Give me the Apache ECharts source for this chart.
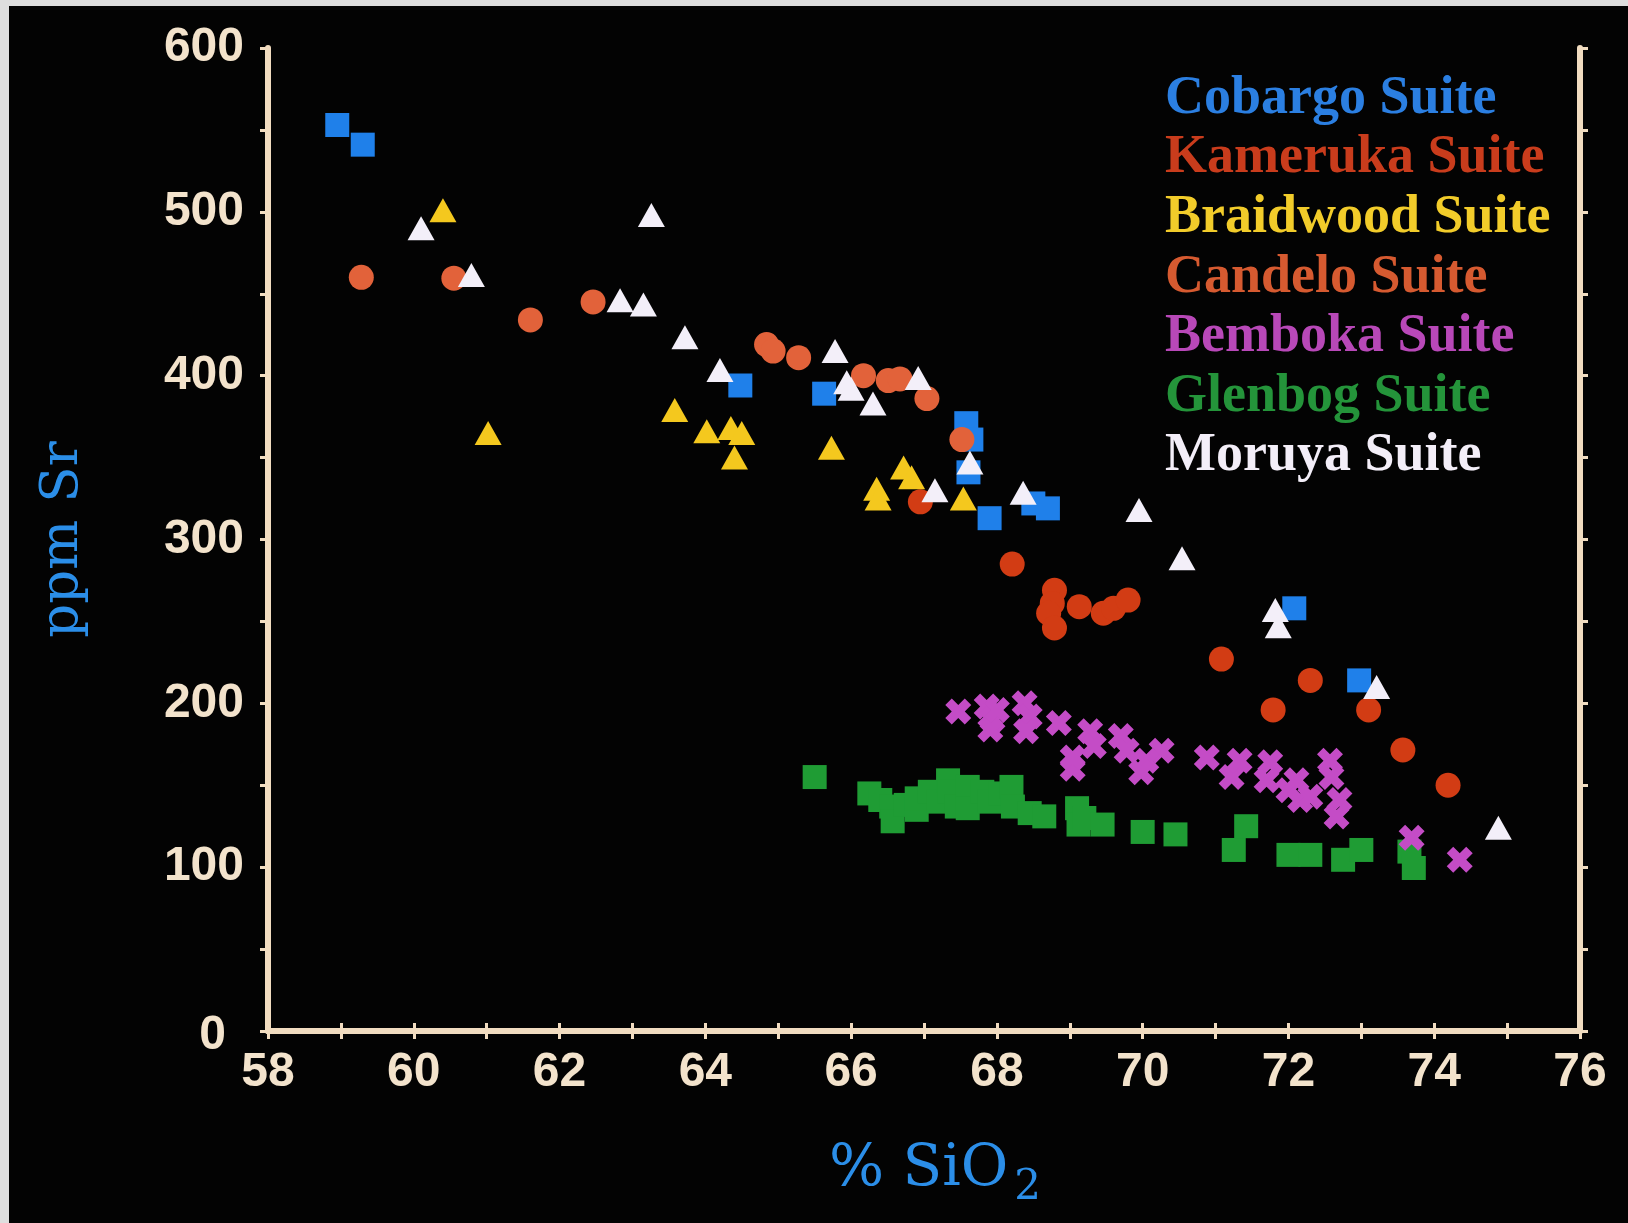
<!DOCTYPE html>
<html><head><meta charset="utf-8">
<script src="https://cdn.jsdelivr.net/npm/echarts@6/dist/echarts.min.js"></script>
<style>
html,body{margin:0;padding:0;background:#dedede;width:1628px;height:1223px;overflow:hidden}
#chart{position:absolute;left:9px;top:6px;width:1619px;height:1217px;background:#030303}
</style></head><body><div id="chart"></div>
<script>
// ---- data (SiO2 %, Sr ppm) ----
const suiteNames = ['Cobargo Suite','Kameruka Suite','Braidwood Suite','Candelo Suite','Bemboka Suite','Glenbog Suite','Moruya Suite'];

const cobargo = [[58.95,553],[59.3,541],[64.48,394],[65.63,389],[67.58,371],[67.65,361],[67.61,341],[67.9,313],[68.5,322],[68.7,319],[72.08,258],[72.97,214]];

const kameruka = [[66.95,323],[68.21,285],[68.79,269],[68.76,261],[68.71,255],[68.79,246],[69.13,259],[69.46,255],[69.6,258],[69.8,263],[71.08,227],[71.79,196],[72.3,214],[73.1,196],[73.57,171.5],[74.19,150]];

const braidwood = [[60.4,501],[61.02,365],[63.58,379],[64.02,366],[64.35,368],[64.5,365],[64.4,350],[65.73,356],[66.72,344],[66.83,338],[66.35,331],[66.37,325],[67.54,325]];

const candelo = [[59.28,460],[60.55,459.5],[61.6,434],[62.46,445],[64.84,419],[64.93,415],[65.28,411],[66.17,400],[66.51,397],[66.67,398],[67.04,386],[67.52,361]];

const bemboka = [[67.47,195],[67.86,198],[67.94,190],[67.91,184],[68.0,196],[68.38,200],[68.45,192],[68.4,183],[68.85,188],[69.28,183],[69.33,174],[69.04,160],[69.04,167],[69.7,180],[69.78,171],[70.26,171],[70.05,165],[69.98,158],[70.88,167],[71.22,155],[71.33,165],[71.75,164],[71.7,153],[72.0,147],[72.11,153],[72.16,141],[72.3,143],[72.57,165],[72.59,155],[72.7,141],[72.66,131],[73.69,118],[74.35,104.5]];

const glenbog = [[65.5,155],[66.25,145],[66.4,141],[66.55,137],[66.57,128],[66.75,138],[66.9,135],[66.9,142],[67.08,146],[67.2,140],[67.33,153],[67.35,146],[67.45,137],[67.6,149],[67.6,136],[67.8,146],[67.9,140],[68.05,145],[68.2,149],[68.22,137],[68.45,133],[68.65,131],[69.1,136],[69.12,126],[69.2,130],[69.45,126],[70.0,121.5],[70.45,120],[71.25,110.5],[71.42,125],[72.0,107.5],[72.3,107.5],[72.75,104.5],[73.0,110.5],[73.66,109.5],[73.72,99.5]];

const moruya = [[60.1,490],[60.79,461.5],[62.83,446],[63.15,443.5],[63.26,498],[63.72,423.5],[64.2,403.5],[65.78,415],[65.94,396],[66.0,392],[66.3,383],[66.92,398.5],[67.15,330],[67.63,347],[68.36,328.5],[69.95,318],[70.54,288.6],[71.82,257],[71.86,247],[73.21,210],[74.88,124]];

const xTickLabels = [58,60,62,64,66,68,70,72,74,76];
const yTickLabels = [0,100,200,300,400,500,600];

// ---- styles ----
const frameColor = '#f1dcc0';
const labelColor = '#f3e3cc';
const titleColor = '#2b8ee8';
const markColors = {Cobargo:'#1f80ea', Kameruka:'#d23c14', Braidwood:'#f4c81e', Candelo:'#e2623a', Bemboka:'#c44cc6', Glenbog:'#1f9c34', Moruya:'#f3eff9'};
const legendColors = ['#2b7fe2','#c93c1c','#f2cc2a','#d65a30','#b848b8','#24943a','#f3eef8'];
const crossPath = 'path://M0,3 L3,0 L6,3 L9,0 L12,3 L9,6 L12,9 L9,12 L6,9 L3,12 L0,9 L3,6 Z';

const chart = echarts.init(document.getElementById('chart'), null, {renderer:'canvas'});

function frameAxis(extra){
  return Object.assign({
    type:'value',
    axisLine:{show:true, lineStyle:{color:frameColor, width:6}},
    axisTick:{show:true, length:8, lineStyle:{color:frameColor, width:3}},
    minorTick:{show:true, splitNumber:2, length:8, lineStyle:{color:frameColor, width:3}},
    splitLine:{show:false},
    minorSplitLine:{show:false}
  }, extra);
}

const labelFont = {color:labelColor, fontFamily:'Liberation Sans', fontWeight:'bold', fontSize:48};

function sc(name, data, symbol, size, color){
  return {name, type:'scatter', data, symbol, symbolSize:size,
    itemStyle:{color, opacity:1}, emphasis:{disabled:true}, animation:false};
}

chart.setOption({
  backgroundColor:'#030303',
  animation:false,
  grid:{left:259, top:42, width:1312, height:983, containLabel:false},
  xAxis:[
    frameAxis({min:xTickLabels[0], max:xTickLabels[xTickLabels.length-1], interval:2, position:'bottom',
      axisLabel:Object.assign({margin:18, formatter: v => String(v)}, labelFont),
      name:'% SiO{sub|2}', nameLocation:'middle', nameGap:100,
      nameTextStyle:{color:titleColor, fontFamily:'DejaVu Serif', fontSize:58, padding:[0,0,0,22],
        rich:{sub:{color:titleColor, fontFamily:'DejaVu Serif', fontSize:42, padding:[36,0,0,6]}}}
    }),
    frameAxis({min:xTickLabels[0], max:xTickLabels[xTickLabels.length-1], interval:2, position:'top',
      axisLabel:{show:false}})
  ],
  yAxis:[
    frameAxis({min:yTickLabels[0], max:yTickLabels[yTickLabels.length-1], interval:100, position:'left',
      axisLabel:Object.assign({margin:24,
        formatter: v => v === 0 ? '{z|0}' : String(v),
        rich:{z:{color:labelColor, fontFamily:'Liberation Sans', fontWeight:'bold', fontSize:48, padding:[10,18,0,0]}}}, labelFont),
      name:'ppm Sr', nameLocation:'middle', nameGap:178, nameRotate:90,
      nameTextStyle:{color:titleColor, fontFamily:'DejaVu Serif', fontSize:53}
    }),
    frameAxis({min:yTickLabels[0], max:yTickLabels[yTickLabels.length-1], interval:100, position:'right',
      axisLabel:{show:false}})
  ],
  legend:{
    orient:'vertical', left:1151, top:63, padding:0, itemGap:0, itemWidth:0, itemHeight:20,
    selectedMode:false,
    data: suiteNames.map((n,i)=>({name:n, icon:'none', textStyle:{color:legendColors[i]}})),
    textStyle:{fontFamily:'Liberation Serif', fontWeight:'bold', fontSize:54, lineHeight:59.6}
  },
  series:[
    sc(suiteNames[5], glenbog, 'rect', 24, markColors.Glenbog),
    sc(suiteNames[4], bemboka, crossPath, 26, markColors.Bemboka),
    sc(suiteNames[0], cobargo, 'rect', 24, markColors.Cobargo),
    sc(suiteNames[3], candelo, 'circle', 25, markColors.Candelo),
    sc(suiteNames[1], kameruka, 'circle', 25, markColors.Kameruka),
    sc(suiteNames[2], braidwood, 'triangle', [27,24], markColors.Braidwood),
    sc(suiteNames[6], moruya, 'triangle', [27,24], markColors.Moruya)
  ]
});
</script></body></html>
